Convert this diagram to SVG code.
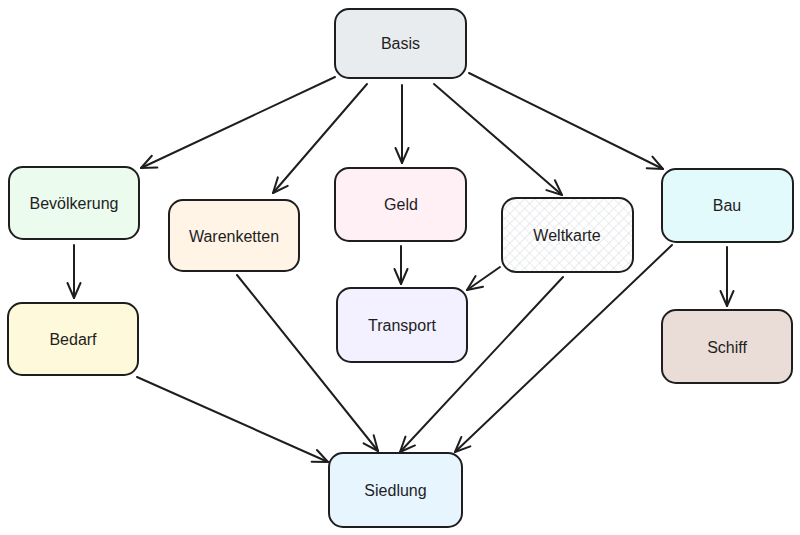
<svg xmlns="http://www.w3.org/2000/svg" width="800" height="535" viewBox="0 0 800 535">
<defs>
<style>
.node rect{stroke:#1e1e1e;stroke-width:2;}
.node text{font-family:"Liberation Sans","DejaVu Sans",sans-serif;font-size:16px;fill:#1e1e1e;text-anchor:middle;dominant-baseline:central;}
.edges line{stroke:#1e1e1e;stroke-width:2;stroke-linecap:round;marker-end:url(#arr);}
</style>
<marker id="arr" viewBox="-16 -9 18 18" refX="0" refY="0" markerWidth="18" markerHeight="18" markerUnits="userSpaceOnUse" orient="auto" overflow="visible">
<path d="M -15 -6.5 L 0 0 L -15 6.5" fill="none" stroke="#1e1e1e" stroke-width="2" stroke-linecap="round" stroke-linejoin="round"/>
</marker>
<pattern id="hatch" width="7" height="7" patternUnits="userSpaceOnUse" patternTransform="rotate(45)">
<rect width="7" height="7" fill="#ffffff"/>
<path d="M 0 0 L 0 7 M 0 0 L 7 0" stroke="#d9dde1" stroke-width="1.2"/>
</pattern>
</defs>
<rect width="800" height="535" fill="#ffffff"/>
<g class="edges" id="connectors">
<line x1="335" y1="77" x2="141" y2="168"/>
<line x1="367" y1="84" x2="273" y2="193"/>
<line x1="402" y1="85" x2="402" y2="163"/>
<line x1="434" y1="84" x2="562" y2="195"/>
<line x1="469" y1="73" x2="663" y2="169"/>
<line x1="74" y1="245" x2="74" y2="298"/>
<line x1="401" y1="246" x2="401" y2="284"/>
<line x1="727" y1="247" x2="727" y2="306"/>
<line x1="500" y1="267" x2="467" y2="290"/>
<line x1="237" y1="275" x2="378" y2="451"/>
<line x1="137" y1="377" x2="328" y2="462"/>
<line x1="563" y1="277" x2="400" y2="452"/>
<line x1="672" y1="245" x2="455" y2="452"/>
</g>
<g class="node" id="basis"><rect x="335" y="9" width="131" height="69" rx="14" fill="#e9ecef"/><text x="400.5" y="43.5">Basis</text></g>
<g class="node" id="bevoelkerung"><rect x="9" y="167" width="130" height="72" rx="14" fill="#ebfbee"/><text x="74" y="203">Bevölkerung</text></g>
<g class="node" id="warenketten"><rect x="169" y="200" width="130" height="71" rx="14" fill="#fff4e6"/><text x="234" y="236">Warenketten</text></g>
<g class="node" id="geld"><rect x="335" y="168" width="131" height="73" rx="14" fill="#fff0f6"/><text x="401" y="204">Geld</text></g>
<g class="node" id="weltkarte"><rect x="502" y="198" width="131" height="74" rx="14" fill="url(#hatch)"/><text x="567" y="235">Weltkarte</text></g>
<g class="node" id="bau"><rect x="662" y="169" width="131" height="73" rx="14" fill="#e3fafc"/><text x="727" y="205">Bau</text></g>
<g class="node" id="bedarf"><rect x="8" y="303" width="130" height="72" rx="14" fill="#fff9db"/><text x="73" y="339">Bedarf</text></g>
<g class="node" id="transport"><rect x="337" y="288" width="130" height="74" rx="14" fill="#f3f0ff"/><text x="402" y="325">Transport</text></g>
<g class="node" id="schiff"><rect x="662" y="310" width="130" height="73" rx="14" fill="#eaddd7"/><text x="727" y="347">Schiff</text></g>
<g class="node" id="siedlung"><rect x="329" y="453" width="133" height="74" rx="14" fill="#e7f5ff"/><text x="395.5" y="490">Siedlung</text></g>
</svg>
